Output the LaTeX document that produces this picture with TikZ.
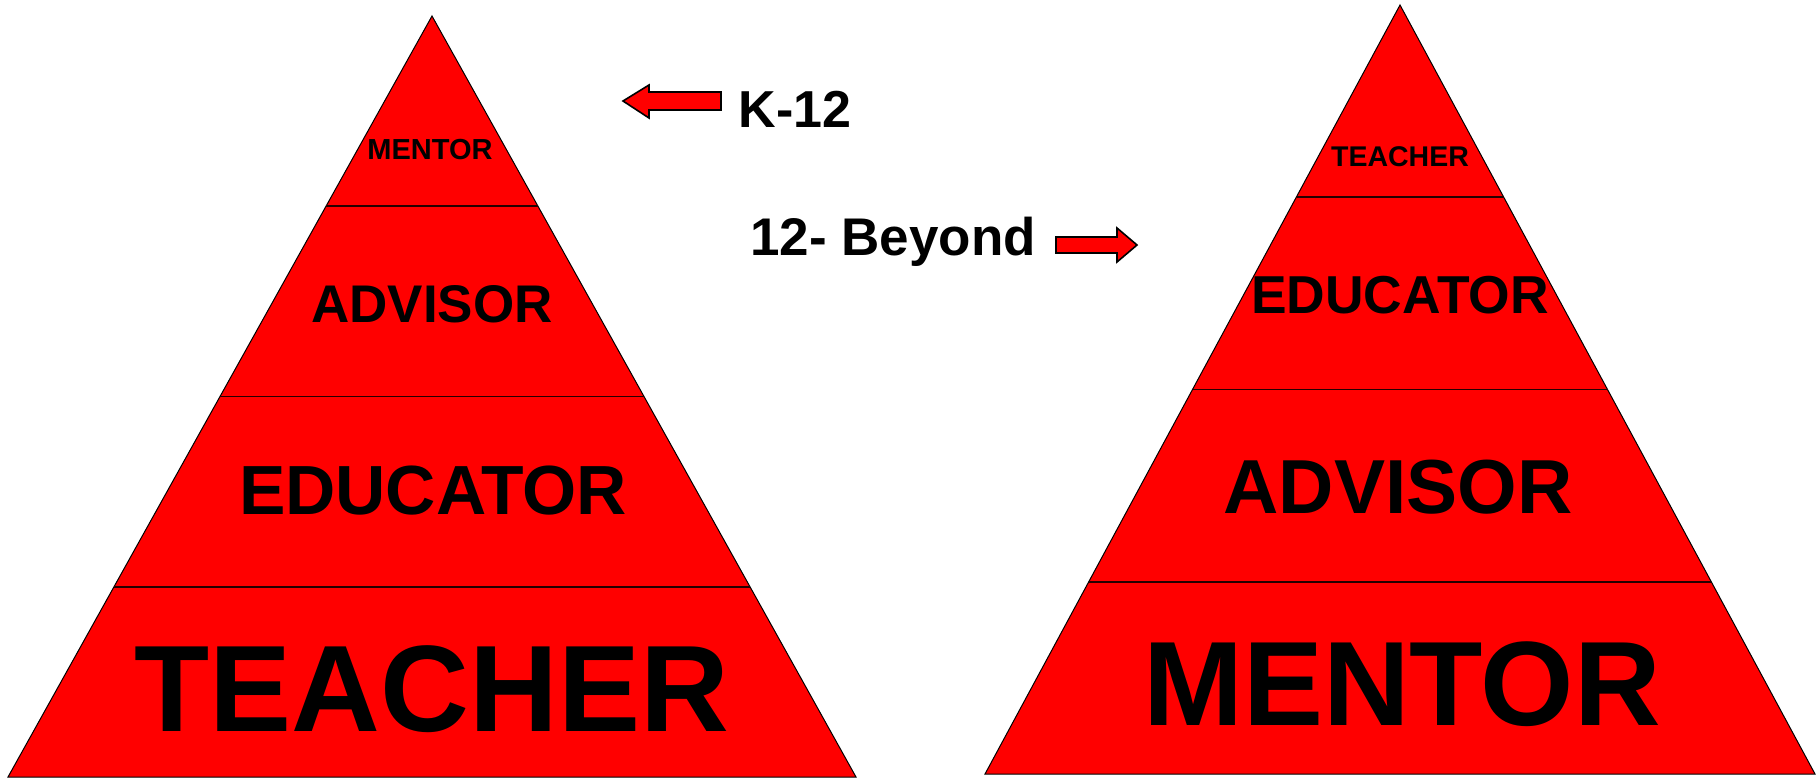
\documentclass[tikz,border=0pt]{standalone}
\usepackage{fontspec}
\setmainfont{Liberation Sans}
\usetikzlibrary{calc}
\begin{document}
\begin{tikzpicture}[x=0.5pt,y=-0.5pt,
  tri/.style={fill=red,draw=black,line width=0.5pt,line join=miter},
  divider/.style={draw=black!85!red,line width=0.9pt},
  lbl/.style={anchor=base,inner sep=0pt},
  arrowshape/.style={fill=red,draw=black,line width=0.8pt}]
\useasboundingbox (0,0) rectangle (1819,777);
% left pyramid
\coordinate (LA) at (432,16);
\coordinate (LL) at (8,777);
\coordinate (LR) at (856,777);
\draw[tri] (LA) -- (LL) -- (LR) -- cycle;
\foreach \f in {0.25,0.5,0.75}
  \draw[divider] ($(LA)!\f!(LL)$) -- ($(LA)!\f!(LR)$);
\node[lbl,font=\fontsize{14.5pt}{14.5pt}\selectfont\bfseries] (lm) at (430,159) {MENTOR};
\node[lbl,font=\fontsize{26.5pt}{26.5pt}\selectfont\bfseries] (la) at (432,322) {ADVISOR};
\node[lbl,font=\fontsize{34.8pt}{34.8pt}\selectfont\bfseries] (le) at (433,514) {EDUCATOR};
\node[lbl,font=\fontsize{61.5pt}{61.5pt}\selectfont\bfseries] (lt) at (432,731) {TEACHER};
% right pyramid
\coordinate (RA) at (1400,5);
\coordinate (RL) at (985,774);
\coordinate (RR) at (1815,774);
\draw[tri] (RA) -- (RL) -- (RR) -- cycle;
\foreach \f in {0.25,0.5,0.75}
  \draw[divider] ($(RA)!\f!(RL)$) -- ($(RA)!\f!(RR)$);
\node[lbl,font=\fontsize{14.25pt}{14.25pt}\selectfont\bfseries] (rt) at (1400,166) {TEACHER};
\node[lbl,font=\fontsize{26.7pt}{26.7pt}\selectfont\bfseries] (re) at (1400,313) {EDUCATOR};
\node[lbl,font=\fontsize{38.3pt}{38.3pt}\selectfont\bfseries] (ra) at (1398,513) {ADVISOR};
\node[lbl,font=\fontsize{60pt}{60pt}\selectfont\bfseries] (rm) at (1402,725) {MENTOR};
% arrows and labels
\draw[arrowshape] (623,101) -- (649,85) -- (649,92) -- (721,92) -- (721,110) -- (649,110) -- (649,118) -- cycle;
\node[lbl,font=\fontsize{26pt}{26pt}\selectfont\bfseries] (k12) at (795,127) {K-12};
\node[anchor=base west,inner sep=0pt,font=\fontsize{26.5pt}{26.5pt}\selectfont\bfseries] (beyond) at (750,255) {12- Beyond};
\draw[arrowshape] (1056,237) -- (1117,237) -- (1117,228) -- (1137,245) -- (1117,262) -- (1117,253) -- (1056,253) -- cycle;
\end{tikzpicture}
\end{document}
